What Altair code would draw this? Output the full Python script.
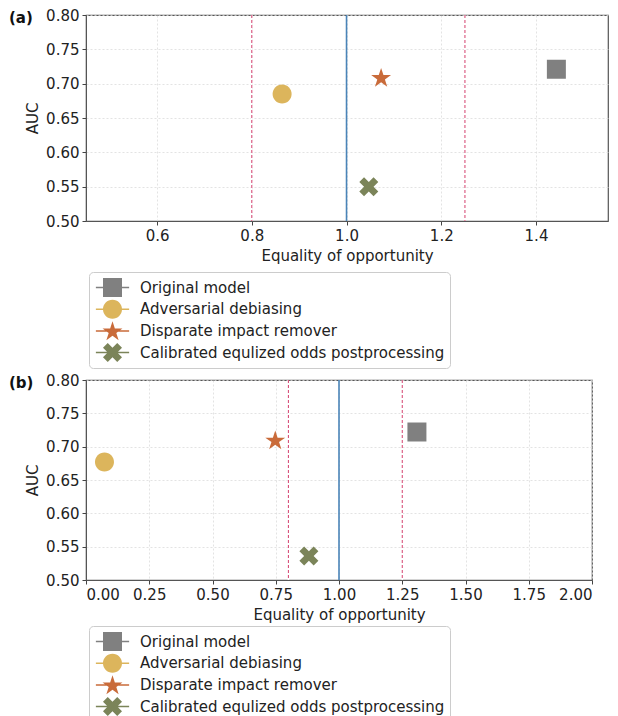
import math
import altair as alt
import pandas as pd

# ---------------- data ----------------
methods = ["Original model", "Adversarial debiasing", "Disparate impact remover",
           "Calibrated equlized odds postprocessing"]
colors = ["#808080", "#dcb55c", "#c96b3a", "#7b8459"]

eo_a = [1.443, 0.864, 1.073, 1.047]
auc_a = [0.721, 0.685, 0.709, 0.550]

eo_b = [1.308, 0.073, 0.748, 0.881]
auc_b = [0.722, 0.677, 0.710, 0.536]

fair_bounds = [0.8, 1.25]
parity = [1.0]

y_ticks = [0.50, 0.55, 0.60, 0.65, 0.70, 0.75, 0.80]
x_ticks_a = [0.6, 0.8, 1.0, 1.2, 1.4]
x_ticks_b = [0.0, 0.25, 0.5, 0.75, 1.0, 1.25, 1.5, 1.75, 2.0]

# ---------------- marker shapes ----------------
def poly(pts):
    return "M" + "L".join(f"{x:.4f},{y:.4f}" for x, y in pts) + "Z"

square = poly([(-1, -1), (1, -1), (1, 1), (-1, 1)])
circle = "M-1,0A1,1 0 1,1 1,0A1,1 0 1,1 -1,0Z"
star_pts = []
for k in range(10):
    ang = math.radians(-90 + 36 * k)
    r = 1.1 if k % 2 == 0 else 0.42
    star_pts.append((r * math.cos(ang), r * math.sin(ang) + 0.09))
star = poly(star_pts)
plus = [(-1, -3), (1, -3), (1, -1), (3, -1), (3, 1), (1, 1), (1, 3), (-1, 3),
        (-1, 1), (-3, 1), (-3, -1), (-1, -1)]
c45 = math.cos(math.pi / 4)
xmark = poly([((x - y) * c45 / 2.828, (x + y) * c45 / 2.828) for x, y in plus])
line_seg = poly([(-1.75, -0.08), (1.75, -0.08), (1.75, 0.08), (-1.75, 0.08)])

plot_shapes = [square, circle, star, xmark]
legend_shapes = [s + line_seg for s in plot_shapes]

FONT = "DejaVu Sans"


def panel(eo, auc, xdomain, xticks, xfmt, tag, w, h, legend_y):
    df = pd.DataFrame({"method": methods, "eo": eo, "auc": auc})
    x = alt.X("eo:Q", scale=alt.Scale(domain=xdomain, nice=False, zero=False),
              axis=alt.Axis(values=xticks, format=xfmt, title="Equality of opportunity"))
    y = alt.Y("auc:Q", scale=alt.Scale(domain=[0.5, 0.8], nice=False, zero=False),
              axis=alt.Axis(values=y_ticks, format=".2f", title="AUC"))

    red_under = alt.Chart(pd.DataFrame({"eo": fair_bounds})).mark_rule(
        color="white", strokeWidth=1.4).encode(x=alt.X("eo:Q"))
    red = alt.Chart(pd.DataFrame({"eo": fair_bounds})).mark_rule(
        color="#d4406e", strokeDash=[3, 2], strokeWidth=1).encode(x=alt.X("eo:Q"))
    blue = alt.Chart(pd.DataFrame({"eo": parity})).mark_rule(
        color="#4a84b8", strokeWidth=1.6).encode(x=alt.X("eo:Q"))

    pts = alt.Chart(df).mark_point(filled=True, size=361, opacity=1).encode(
        x=x, y=y,
        color=alt.Color("method:N", scale=alt.Scale(domain=methods, range=colors), legend=None),
        shape=alt.Shape("method:N", scale=alt.Scale(domain=methods, range=plot_shapes), legend=None),
    )
    leg = alt.Legend(orient="none", legendX=3, legendY=legend_y, title=None,
                     padding=5, strokeColor="#cccccc", fillColor="white", cornerRadius=4,
                     symbolOffset=8, labelOffset=17, rowPadding=1.7, symbolSize=361,
                     labelLimit=0, labelFont=FONT, labelFontSize=15, labelColor="#222222")
    leg_layer = alt.Chart(df).transform_filter("false").mark_point(
        filled=True, size=361, opacity=1).encode(
        x=x, y=y,
        color=alt.Color("method:N", scale=alt.Scale(domain=methods, range=colors), legend=leg),
        shape=alt.Shape("method:N", scale=alt.Scale(domain=methods, range=legend_shapes), legend=leg),
    )
    label = alt.Chart(pd.DataFrame({"tag": [tag]})).mark_text(
        font=FONT, fontWeight="bold", fontSize=15, align="left", baseline="middle",
        color="#111111").encode(x=alt.value(-77), y=alt.value(3), text="tag:N")

    return alt.layer(red_under, red, blue, pts, leg_layer, label).resolve_scale(
        color="independent", shape="independent").properties(width=w, height=h)


pa = panel(eo_a, auc_a, [0.45, 1.552], x_ticks_a, ".1f", "(a)", 522, 206, 257)
pb = panel(eo_b, auc_b, [0.0, 2.0], x_ticks_b, ".2f", "(b)", 506, 200, 246)

chart = alt.vconcat(pa, pb, spacing=2).properties(
    padding={"left": 0, "top": -1, "right": 0, "bottom": 0}
).configure_axis(
    labelFont=FONT, titleFont=FONT, labelFontSize=15, titleFontSize=15,
    labelColor="#222222", titleColor="#222222", titleFontWeight="normal",
    gridColor="#dcdcdc", gridDash=[2, 2], gridWidth=0.8,
    tickColor="#444444", tickSize=4, domainColor="#555555",
    labelPadding=3, titlePadding=5,
).configure_view(stroke="#555555", strokeWidth=1.2)

chart.save("out.html", embed_options={"renderer": "svg", "actions": False})
